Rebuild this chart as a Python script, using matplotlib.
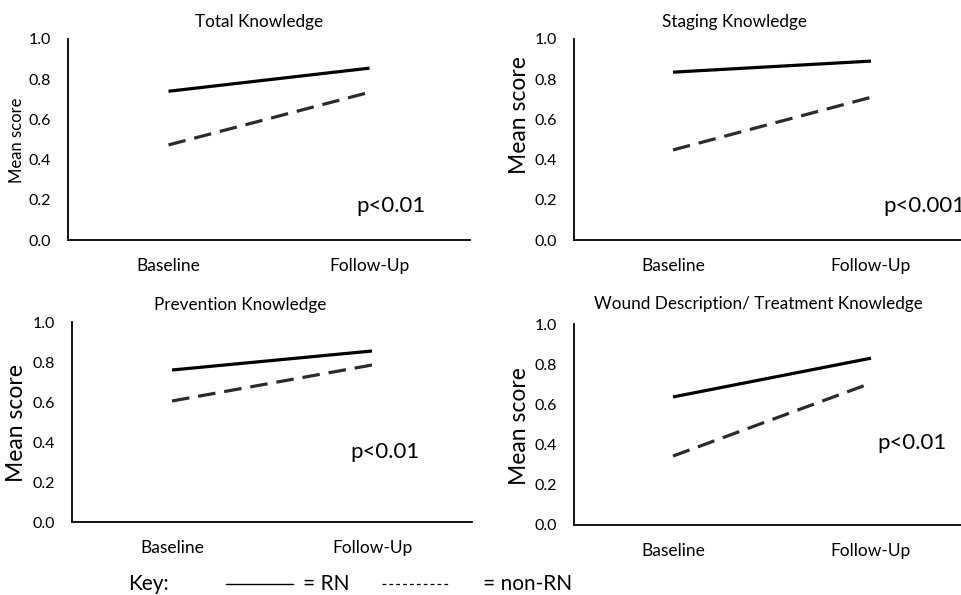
import matplotlib
matplotlib.use("Agg")
import matplotlib.pyplot as plt
from matplotlib.lines import Line2D

plt.rcParams["font.family"] = ["Lato", "DejaVu Sans"]

# data
timepoints = ["Baseline", "Follow-Up"]
panel_titles = [
    "Total Knowledge",
    "Staging Knowledge",
    "Prevention Knowledge",
    "Wound Description/ Treatment Knowledge",
]
rn_scores = [
    [0.74, 0.855],
    [0.835, 0.89],
    [0.76, 0.855],
    [0.637, 0.83],
]
non_rn_scores = [
    [0.473, 0.735],
    [0.448, 0.71],
    [0.605, 0.785],
    [0.343, 0.706],
]
p_labels = ["p<0.01", "p<0.001", "p<0.01", "p<0.01"]
y_ticks = [0.0, 0.2, 0.4, 0.6, 0.8, 1.0]

W, H = 961, 595
fig = plt.figure(figsize=(W / 100, H / 100), dpi=100)


def px_rect(left, right, top, bottom):
    return [left / W, 1 - bottom / H, (right - left) / W, (bottom - top) / H]


# axes boxes in pixels: left, right, top, bottom
boxes = [
    (68, 470, 39, 240),
    (574, 970, 39, 240),
    (72, 472, 322, 522),
    (574, 970, 324, 525),
]
title_pos = [(259, 22), (735, 22), (240, 305), (758, 304)]
ylabel_pos = [(17, 140), (520, 115), (17, 423), (520, 426)]
ylabel_size = [12, 16.5, 16.5, 16.5]
p_pos = [(391, 206, "center"), (883, 206, "left"), (385, 452, "center"), (877, 443, "left")]

for i in range(4):
    ax = fig.add_axes(px_rect(*boxes[i]))
    x = range(len(timepoints))
    ax.plot(x, rn_scores[i], color="black", lw=2.3, solid_capstyle="butt")
    ax.plot(x, non_rn_scores[i], color="#2b2b2b", lw=2.3,
            linestyle=(0, (5.5, 2.8)), dash_capstyle="butt")
    ax.set_xlim(-0.5, 1.5)
    ax.set_ylim(0, 1.0)
    ax.set_yticks(y_ticks)
    ax.set_yticklabels([f"{t:.1f}" for t in y_ticks])
    ax.set_xticks(list(x))
    ax.set_xticklabels(timepoints)
    ax.tick_params(axis="y", length=0, pad=12, labelsize=11.5)
    ax.tick_params(axis="x", length=0, pad=13, labelsize=12.5)
    for s in ["top", "right"]:
        ax.spines[s].set_visible(False)
    for s in ["left", "bottom"]:
        ax.spines[s].set_linewidth(1.3)
        ax.spines[s].set_color("black")

    tx, ty = title_pos[i]
    fig.text(tx / W, 1 - ty / H, panel_titles[i], ha="center", va="center", fontsize=12.3)
    lx, ly = ylabel_pos[i]
    fig.text(lx / W, 1 - ly / H, "Mean score", rotation=90, ha="center", va="center",
             fontsize=ylabel_size[i])
    px, py, ha = p_pos[i]
    fig.text(px / W, 1 - py / H, p_labels[i], ha=ha, va="center", fontsize=16)

# key row
ky = 1 - 584 / H
fig.text(128 / W, ky, "Key:", ha="left", va="center", fontsize=15)
fig.add_artist(Line2D([226 / W, 293 / W], [ky, ky], color="black", lw=1.0))
fig.text(303 / W, ky, "= RN", ha="left", va="center", fontsize=15)
fig.add_artist(Line2D([382 / W, 450 / W], [ky, ky], color="black", lw=0.9,
                      linestyle=(0, (3, 2.5))))
fig.text(483 / W, ky, "= non-RN", ha="left", va="center", fontsize=15)

fig.savefig("out.png", dpi=100)
